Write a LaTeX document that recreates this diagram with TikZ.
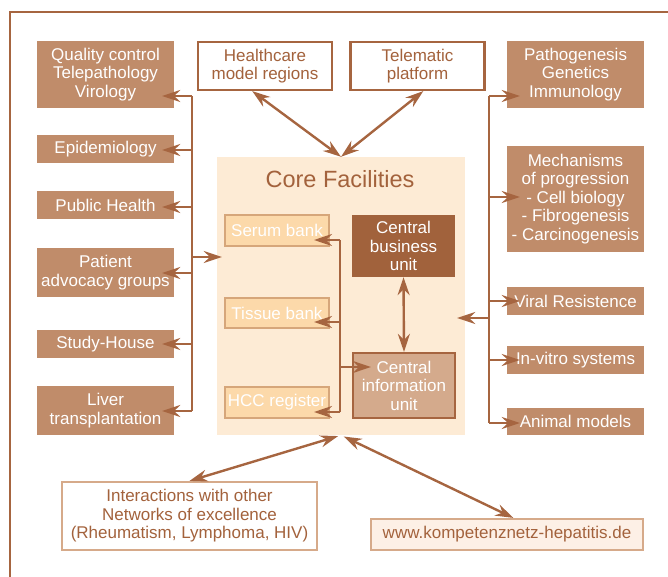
\documentclass[tikz,border=0pt]{standalone}
\usepackage{fontspec}
\setmainfont{Liberation Sans}
\usepackage{tikz}
\usetikzlibrary{arrows.meta}
\definecolor{linebrown}{RGB}{166,101,64}
\definecolor{boxbrown}{RGB}{192,140,106}
\definecolor{darkbrown}{RGB}{161,98,60}
\definecolor{textbrown}{RGB}{163,98,60}
\definecolor{corefill}{RGB}{253,235,213}
\definecolor{innerfill}{RGB}{252,217,170}
\definecolor{innerline}{RGB}{214,166,122}
\definecolor{infofill}{RGB}{212,170,140}
\definecolor{lightline}{RGB}{214,170,138}
\definecolor{wwwfill}{RGB}{253,240,230}

\begin{document}
\begin{tikzpicture}[x=1pt, y=-1pt,
	every node/.style={font=\fontsize{17}{18.5}\selectfont, align=center, inner sep=0pt},
	box/.style={fill=boxbrown, text=white, minimum width=137pt},
	topbox/.style={draw=linebrown, line width=2.2pt, fill=white, text=textbrown, minimum width=134pt, minimum height=48pt},
	innerbox/.style={draw=innerline, line width=2pt, fill=innerfill, text=white, minimum width=104pt, minimum height=31pt},
	outbox/.style={draw=lightline, line width=2.2pt, text=textbrown},
	wire/.style={draw=linebrown, line width=2.4pt},
	post/.style={wire, ->, >={Stealth[length=18pt, width=12pt, inset=6pt]}},
	both/.style={post, <->}]
	\useasboundingbox (0,0) rectangle (668,577);
	\draw[wire, line width=2.2pt] (10,578) -- (10,12) -- (669,12);

	\node[box, minimum height=67pt] (qc) at (105.5,74.5) {Quality control\\Telepathology\\Virology};
	\node[box, minimum height=28pt] (epi) at (105.5,149) {Epidemiology};
	\node[box, minimum height=28pt] (ph) at (105.5,205) {Public Health};
	\node[box, minimum height=49pt] (pag) at (105.5,272.5) {Patient\\advocacy groups};
	\node[box, minimum height=28pt] (sh) at (105.5,344) {Study-House};
	\node[box, minimum height=49pt] (lt) at (105.5,410.5) {Liver\\transplantation};

	\node[box, minimum height=67pt] (pgi) at (575.5,74.5) {Pathogenesis\\Genetics\\Immunology};
	\node[box, minimum height=106pt] (mop) at (575.5,199) {Mechanisms\\of progression\\- Cell biology\\- Fibrogenesis\\- Carcinogenesis};
	\node[box, minimum height=28pt] (vr) at (575.5,301) {Viral Resistence};
	\node[box, minimum height=28pt] (ivs) at (575.5,360) {In-vitro systems};
	\node[box, minimum height=27pt] (am) at (575.5,421.5) {Animal models};

	\node[topbox] (hmr) at (265,66) {Healthcare\\model regions};
	\node[topbox] (tp) at (417.5,66) {Telematic\\platform};

	\node[fill=corefill, minimum width=248pt, minimum height=278pt] (core) at (341,296) {};
	\node[font=\fontsize{23.5}{26}\selectfont, text=textbrown] (title) at (340,179) {Core Facilities};
	\node[innerbox] (serum) at (277,230.5) {Serum bank};
	\node[innerbox, minimum height=30pt] (tissue) at (277,313) {Tissue bank};
	\node[innerbox] (hcc) at (277,402.5) {HCC register};
	\node[fill=darkbrown, text=white, minimum width=103pt, minimum height=62pt] (cbu) at (403.5,246) {Central\\business\\unit};
	\node[draw=linebrown, line width=2.2pt, fill=infofill, text=white, minimum width=102pt, minimum height=65pt] (ciu) at (404,385.5) {Central\\information\\unit};

	\node[outbox, fill=white, minimum width=255pt, minimum height=68pt] (inter) at (189.5,516) {Interactions with other\\Networks of excellence\\(Rheumatism, Lymphoma, HIV)};
	\node[outbox, fill=wwwfill, minimum width=272pt, minimum height=31pt] (www) at (507,534.5) {www.kompetenznetz-hepatitis.de};

	\foreach \n/\y in {qc/96, epi/150, ph/207, pag/273, sh/344, lt/411}{
		\coordinate (l-\n) at (192,\y);
		\draw[post, shorten >=-12pt] (l-\n) -- (l-\n -| \n.east);
	}
	\draw[wire] (l-qc) -- (l-lt);
	\coordinate (l-core) at (192,257);
	\draw[post, shorten >=-5pt] (l-core) -- (l-core -| core.west);

	\foreach \n/\y in {pgi/96, mop/197, vr/301, ivs/360, am/423}{
		\coordinate (r-\n) at (489,\y);
		\draw[post, shorten >=-13pt] (r-\n) -- (r-\n -| \n.west);
	}
	\draw[wire] (r-pgi) -- (r-am);
	\coordinate (r-core) at (489,318);
	\draw[post, shorten >=-8pt] (r-core) -- (r-core -| core.east);

	\foreach \n/\y in {serum/240, tissue/322, hcc/412}{
		\coordinate (c-\n) at (340,\y);
		\draw[post, shorten >=-16pt] (c-\n) -- (c-\n -| \n.east);
	}
	\draw[wire] (c-serum) -- (c-hcc);
	\coordinate (c-ciu) at (340,367);
	\draw[post, shorten >=-19pt] (c-ciu) -- (c-ciu -| ciu.west);

	\draw[both] (cbu.south) -- (ciu.north);
	\draw[both] (hmr.243) -- (core.north);
	\draw[both] (tp.283) -- (core.north);
	\draw[both, shorten <=3pt] (core.south) -- (inter.north);
	\draw[both, shorten <=3pt] (core.south) -- (www.69);
\end{tikzpicture}
\end{document}
